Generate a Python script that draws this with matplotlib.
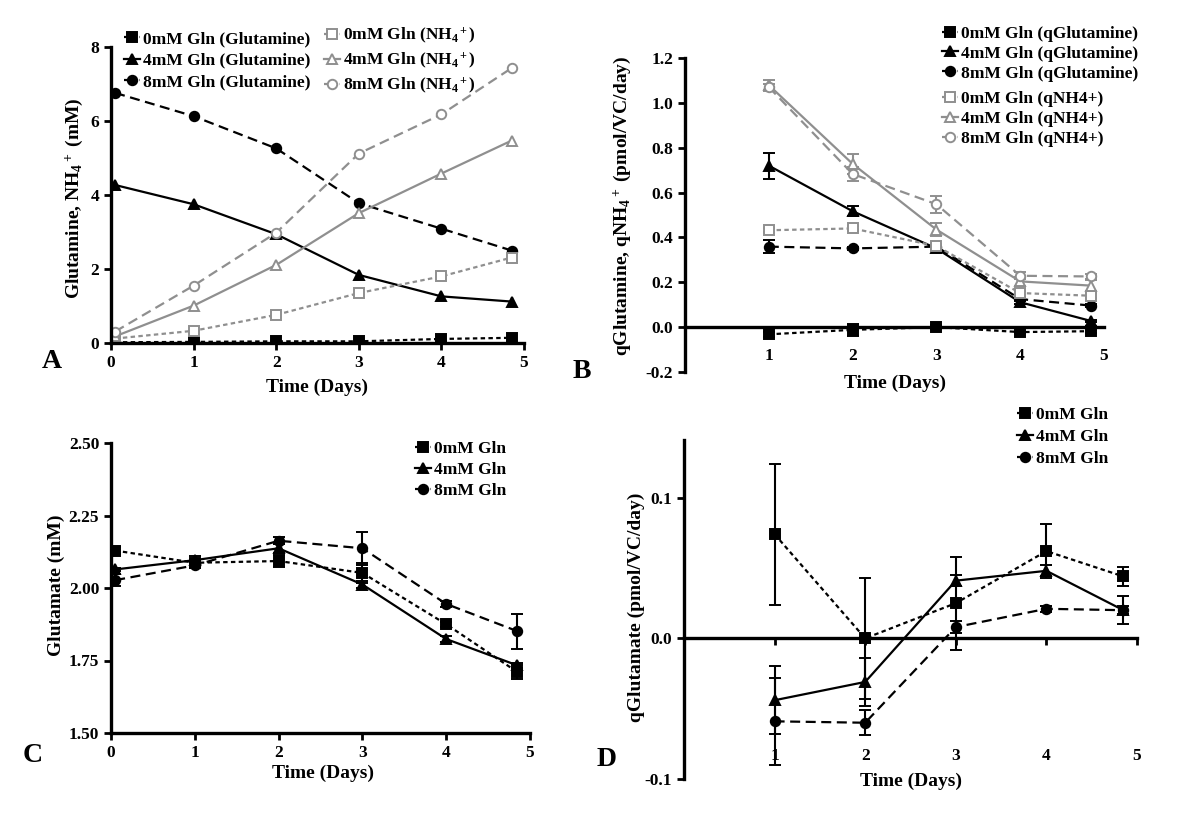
import matplotlib
matplotlib.use('Agg')
import matplotlib.pyplot as plt

# ---- data ----
days_a = [0.05, 1, 2, 3, 4, 4.85]
gln_0 = [0.02, 0.03, 0.045, 0.045, 0.11, 0.14]
gln_4 = [4.27, 3.75, 2.94, 1.84, 1.26, 1.12]
gln_8 = [6.76, 6.13, 5.26, 3.78, 3.09, 2.50]
nh4_0 = [0.12, 0.33, 0.76, 1.35, 1.80, 2.31]
nh4_4 = [0.18, 1.01, 2.11, 3.51, 4.58, 5.47]
nh4_8 = [0.31, 1.55, 2.98, 5.12, 6.18, 7.43]

days_q = [1, 2, 3, 4, 4.85]
qgln_0 = [-0.032, -0.012, 0.0, -0.022, -0.018]
qgln_0_err = [0.01, 0.028, 0.008, 0.006, 0.006]
qgln_4 = [0.72, 0.517, 0.351, 0.111, 0.027]
qgln_4_err = [0.058, 0.022, 0.012, 0.008, 0.005]
qgln_8 = [0.359, 0.351, 0.359, 0.125, 0.096]
qgln_8_err = [0.028, 0.008, 0.012, 0.008, 0.006]
qnh4_0 = [0.432, 0.44, 0.362, 0.152, 0.14]
qnh4_0_err = [0.01, 0.012, 0.01, 0.01, 0.012]
qnh4_4 = [1.079, 0.728, 0.435, 0.204, 0.185]
qnh4_4_err = [0.025, 0.044, 0.03, 0.02, 0.025]
qnh4_8 = [1.07, 0.683, 0.548, 0.229, 0.226]
qnh4_8_err = [0.012, 0.03, 0.038, 0.015, 0.01]

days_c = [0.05, 1, 2, 3, 4, 4.85]
glu_0 = [2.129, 2.087, 2.093, 2.052, 1.875, 1.71]
glu_0_err = [0.012, 0.01, 0.02, 0.035, 0.008, 0.025]
glu_4 = [2.064, 2.096, 2.137, 2.012, 1.824, 1.733]
glu_4_err = [0.005, 0.015, 0.015, 0.012, 0.01, 0.01]
glu_8 = [2.027, 2.078, 2.163, 2.137, 1.945, 1.851]
glu_8_err = [0.02, 0.008, 0.012, 0.057, 0.01, 0.06]

days_d = [1, 2, 3, 4, 4.85]
qglu_0 = [0.074, 0.0, 0.025, 0.062, 0.044]
qglu_0_err = [0.05, 0.043, 0.033, 0.019, 0.007]
qglu_4 = [-0.044, -0.031, 0.041, 0.048, 0.02]
qglu_4_err = [0.024, 0.017, 0.004, 0.004, 0.01]
qglu_8 = [-0.059, -0.060, 0.008, 0.021, 0.02]
qglu_8_err = [0.031, 0.009, 0.004, 0.002, 0.003]

labels_gln = ['0mM Gln (Glutamine)', '4mM Gln (Glutamine)', '8mM Gln (Glutamine)']
labels_nh4 = ['0mM Gln (NH$_4$$^+$)', '4mM Gln (NH$_4$$^+$)', '8mM Gln (NH$_4$$^+$)']
labels_qgln = ['0mM Gln (qGlutamine)', '4mM Gln (qGlutamine)', '8mM Gln (qGlutamine)']
labels_qnh4 = ['0mM Gln (qNH4+)', '4mM Gln (qNH4+)', '8mM Gln (qNH4+)']
labels_glu = ['0mM Gln', '4mM Gln', '8mM Gln']

# ---- style ----
plt.rcParams['font.family'] = 'Liberation Serif'
plt.rcParams['font.weight'] = 'bold'
plt.rcParams['axes.labelweight'] = 'bold'
plt.rcParams['mathtext.fontset'] = 'custom'
plt.rcParams['mathtext.rm'] = 'Liberation Serif:bold'
plt.rcParams['mathtext.it'] = 'Liberation Serif:bold:italic'
plt.rcParams['mathtext.bf'] = 'Liberation Serif:bold'

W, H = 1200, 818
GRAY = '#8f8f8f'
DOT = (0, (2, 1.5))
DASH = (0, (4.5, 2.5))
LW = 1.6

fig = plt.figure(figsize=(W / 100, H / 100), dpi=100)


def axes_px(left, right, top, bottom):
    return fig.add_axes([left / W, 1 - bottom / H, (right - left) / W, (bottom - top) / H])


def style(ax):
    ax.spines['top'].set_visible(False)
    ax.spines['right'].set_visible(False)
    ax.spines['left'].set_linewidth(2.4)
    ax.spines['bottom'].set_linewidth(2.4)
    ax.tick_params(width=2, length=5, labelsize=12.5)
    ax.patch.set_alpha(0)


def series(ax, x, y, err, color, marker, ls, open_marker=False, ms=6.8):
    kw = dict(color=color, marker=marker, ls=ls, lw=LW, ms=ms, mec=color, mew=1.4)
    if open_marker:
        kw['mfc'] = 'white'
    if err is None:
        return ax.plot(x, y, **kw)[0]
    c = ax.errorbar(x, y, yerr=err, capsize=4, elinewidth=1.5, capthick=1.5, ecolor=color, **kw)
    return c[0]


def legend(handles, labels, x, ymid, spacing=0.3):
    lg = fig.legend(handles, labels, loc='center left', bbox_to_anchor=(x / W, 1 - ymid / H),
                    frameon=False, borderpad=0, borderaxespad=0, handlelength=0.95,
                    handletextpad=0.15, labelspacing=spacing, fontsize=12.5)
    return lg


# ---- panel A ----
axA = axes_px(111, 524, 47, 343)
style(axA)
hA = [series(axA, days_a, gln_0, None, 'black', 's', DOT),
      series(axA, days_a, gln_4, None, 'black', '^', '-'),
      series(axA, days_a, gln_8, None, 'black', 'o', DASH)]
hA2 = [series(axA, days_a, nh4_0, None, GRAY, 's', DOT, True),
       series(axA, days_a, nh4_4, None, GRAY, '^', '-', True),
       series(axA, days_a, nh4_8, None, GRAY, 'o', DASH, True)]
axA.set_xlim(0, 5)
axA.set_ylim(0, 8)
axA.set_xticks(range(6))
axA.set_yticks([0, 2, 4, 6, 8])
axA.set_xlabel('Time (Days)', fontsize=14)
axA.set_ylabel('Glutamine, NH$_4$$^+$ (mM)', fontsize=14)
axA.xaxis.set_label_coords(0.5, -0.12)
axA.yaxis.set_label_coords(-0.062, 0.49)
legend(hA, labels_gln, 124, 60.5)
legend(hA2, labels_nh4, 324, 60.5)

# ---- panel B ----
axB = axes_px(685, 1104, 58, 372)
style(axB)
hB = [series(axB, days_q, qgln_0, qgln_0_err, 'black', 's', DOT),
      series(axB, days_q, qgln_4, qgln_4_err, 'black', '^', '-'),
      series(axB, days_q, qgln_8, qgln_8_err, 'black', 'o', DASH)]
hB2 = [series(axB, days_q, qnh4_0, qnh4_0_err, GRAY, 's', DOT, True),
       series(axB, days_q, qnh4_4, qnh4_4_err, GRAY, '^', '-', True),
       series(axB, days_q, qnh4_8, qnh4_8_err, GRAY, 'o', DASH, True)]
axB.set_xlim(0, 5)
axB.set_ylim(-0.2, 1.2)
axB.spines['bottom'].set_position(('data', 0))
axB.set_xticks([1, 2, 3, 4, 5])
axB.set_yticks([-0.2, 0, 0.2, 0.4, 0.6, 0.8, 1.0, 1.2])
axB.set_yticklabels(['-0.2', '0.0', '0.2', '0.4', '0.6', '0.8', '1.0', '1.2'])
axB.tick_params(axis='x', length=0, pad=15)
axB.set_xlabel('Time (Days)', fontsize=14)
axB.set_ylabel('qGlutamine, qNH$_4$$^+$ (pmol/VC/day)', fontsize=14)
axB.xaxis.set_label_coords(0.5, -0.01)
axB.yaxis.set_label_coords(-0.125, 0.53)
legend(hB, labels_qgln, 942, 53.5, 0.22)
legend(hB2, labels_qnh4, 942, 119, 0.22)

# ---- panel C ----
axC = axes_px(111, 530, 443, 733)
style(axC)
hC = [series(axC, days_c, glu_0, glu_0_err, 'black', 's', DOT),
      series(axC, days_c, glu_4, glu_4_err, 'black', '^', '-'),
      series(axC, days_c, glu_8, glu_8_err, 'black', 'o', DASH)]
axC.set_xlim(0, 5)
axC.set_ylim(1.5, 2.5)
axC.set_xticks(range(6))
axC.set_yticks([1.5, 1.75, 2.0, 2.25, 2.5])
axC.set_yticklabels(['1.50', '1.75', '2.00', '2.25', '2.50'])
axC.set_xlabel('Time (Days)', fontsize=14)
axC.set_ylabel('Glutamate (mM)', fontsize=14)
axC.xaxis.set_label_coords(0.505, -0.11)
axC.yaxis.set_label_coords(-0.11, 0.51)
legend(hC, labels_glu, 415, 470)

# ---- panel D ----
axD = axes_px(684, 1137, 440, 779)
style(axD)
hD = [series(axD, days_d, qglu_0, qglu_0_err, 'black', 's', DOT),
      series(axD, days_d, qglu_4, qglu_4_err, 'black', '^', '-'),
      series(axD, days_d, qglu_8, qglu_8_err, 'black', 'o', DASH)]
axD.set_xlim(0, 5)
axD.set_ylim(-0.1, 0.141)
axD.spines['bottom'].set_position(('data', 0))
axD.set_xticks([1, 2, 3, 4, 5])
axD.set_yticks([-0.1, 0.0, 0.1])
axD.set_yticklabels(['-0.1', '0.0', '0.1'])
axD.tick_params(axis='x', length=5, pad=74)
axD.set_xlabel('Time (Days)', fontsize=14)
axD.set_ylabel('qGlutamate (pmol/VC/day)', fontsize=14)
axD.xaxis.set_label_coords(0.5, 0.02)
axD.yaxis.set_label_coords(-0.086, 0.507)
legend(hD, labels_glu, 1017, 437, 0.35)

# ---- panel letters ----
for letter, x, y in [('A', 52, 362), ('B', 582, 372), ('C', 33, 755), ('D', 607, 760)]:
    fig.text(x / W, 1 - y / H, letter, ha='center', va='center', fontsize=20, fontweight='bold')

fig.savefig('out.png', dpi=100)
